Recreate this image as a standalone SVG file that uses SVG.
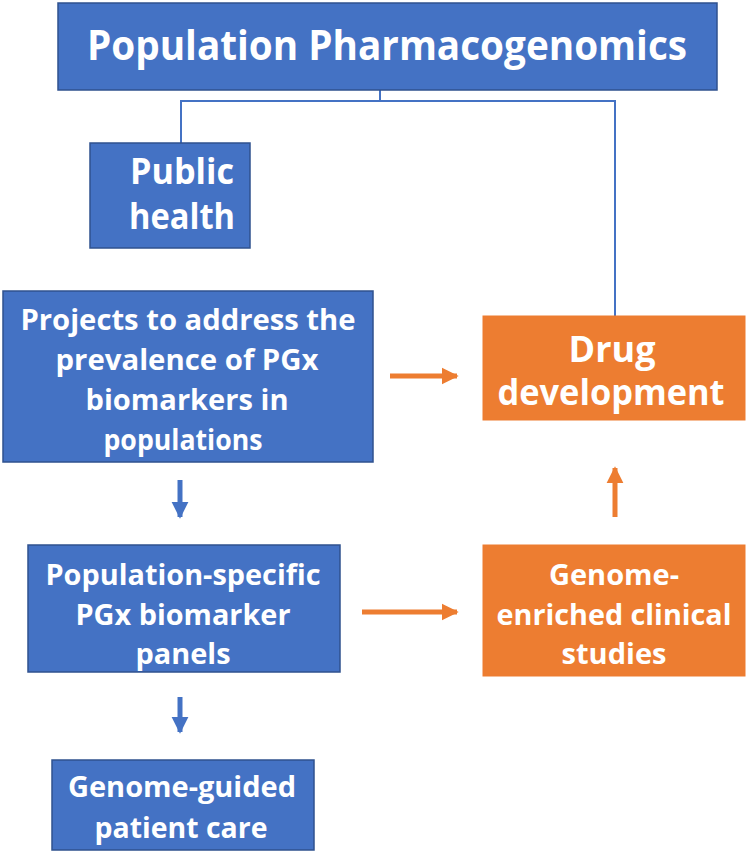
<svg xmlns="http://www.w3.org/2000/svg" width="748" height="854" viewBox="0 0 748 854">
<style>
.blue{fill:#4472C4;stroke:#2F528F;stroke-width:1.5}
.orange{fill:#ED7D31;stroke:#ED7D31;stroke-width:1}
text{font-family:"Open Sans","Liberation Sans",sans-serif;font-weight:700;fill:#FFFFFF;text-anchor:middle}
.t1{font-size:42px}
.t2{font-size:35px}
.t3{font-size:28px}
.conn{stroke:#4472C4;stroke-width:2;fill:none}
.ob{stroke:#ED7D31;stroke-width:5;fill:none}
.bb{stroke:#4472C4;stroke-width:5;fill:none}
</style>
<defs>
<marker id="ao" viewBox="0 0 10 10" refX="9" refY="5" markerWidth="3.4" markerHeight="4.2" orient="auto" markerUnits="strokeWidth"><path d="M0,0 L10,5 L0,10 Z" fill="#ED7D31"/></marker>
<marker id="ab" viewBox="0 0 10 10" refX="9" refY="5" markerWidth="3.4" markerHeight="4.2" orient="auto" markerUnits="strokeWidth"><path d="M0,0 L10,5 L0,10 Z" fill="#4472C4"/></marker>
</defs>
<g id="connectors">
<path class="conn" d="M380,90 V101 M181,101 H615 M181,100 V143 M615,100 V316"/>
<path class="ob" d="M390,376 H457" marker-end="url(#ao)"/>
<path class="ob" d="M362,612 H457" marker-end="url(#ao)"/>
<path class="ob" d="M615,517 V468" marker-end="url(#ao)"/>
<path class="bb" d="M180,480 V517" marker-end="url(#ab)"/>
<path class="bb" d="M180,697 V732" marker-end="url(#ab)"/>
</g>
<g id="title">
<rect class="blue" x="58" y="3" width="659" height="87"/>
<text class="t1" x="387" y="60" textLength="600" lengthAdjust="spacingAndGlyphs">Population Pharmacogenomics</text>
</g>
<g id="public-health">
<rect class="blue" x="90" y="143" width="160" height="105"/>
<text class="t2" x="182" y="184" textLength="104" lengthAdjust="spacingAndGlyphs">Public</text>
<text class="t2" x="182" y="229" textLength="106" lengthAdjust="spacingAndGlyphs">health</text>
</g>
<g id="projects">
<rect class="blue" x="3" y="291" width="370" height="171"/>
<text class="t3" x="188" y="330" textLength="335" lengthAdjust="spacingAndGlyphs">Projects to address the</text>
<text class="t3" x="187" y="370" textLength="263" lengthAdjust="spacingAndGlyphs">prevalence of PGx</text>
<text class="t3" x="187" y="410" textLength="203" lengthAdjust="spacingAndGlyphs">biomarkers in</text>
<text class="t3" x="183" y="450" textLength="159" lengthAdjust="spacingAndGlyphs">populations</text>
</g>
<g id="drug-development">
<rect class="orange" x="483" y="316" width="262" height="104"/>
<text class="t2" x="612" y="362" textLength="87" lengthAdjust="spacingAndGlyphs">Drug</text>
<text class="t2" x="611" y="405" textLength="227" lengthAdjust="spacingAndGlyphs">development</text>
</g>
<g id="population-specific">
<rect class="blue" x="28" y="545" width="312" height="127"/>
<text class="t3" x="183" y="585" textLength="275" lengthAdjust="spacingAndGlyphs">Population-specific</text>
<text class="t3" x="183" y="625" textLength="215" lengthAdjust="spacingAndGlyphs">PGx biomarker</text>
<text class="t3" x="183" y="664" textLength="95" lengthAdjust="spacingAndGlyphs">panels</text>
</g>
<g id="genome-enriched">
<rect class="orange" x="483" y="545" width="262" height="131"/>
<text class="t3" x="614" y="585" textLength="130" lengthAdjust="spacingAndGlyphs">Genome-</text>
<text class="t3" x="614" y="625" textLength="235" lengthAdjust="spacingAndGlyphs">enriched clinical</text>
<text class="t3" x="614" y="664" textLength="105" lengthAdjust="spacingAndGlyphs">studies</text>
</g>
<g id="genome-guided">
<rect class="blue" x="52" y="760" width="262" height="90"/>
<text class="t3" x="182" y="797" textLength="228" lengthAdjust="spacingAndGlyphs">Genome-guided</text>
<text class="t3" x="181" y="838" textLength="173" lengthAdjust="spacingAndGlyphs">patient care</text>
</g>
</svg>
